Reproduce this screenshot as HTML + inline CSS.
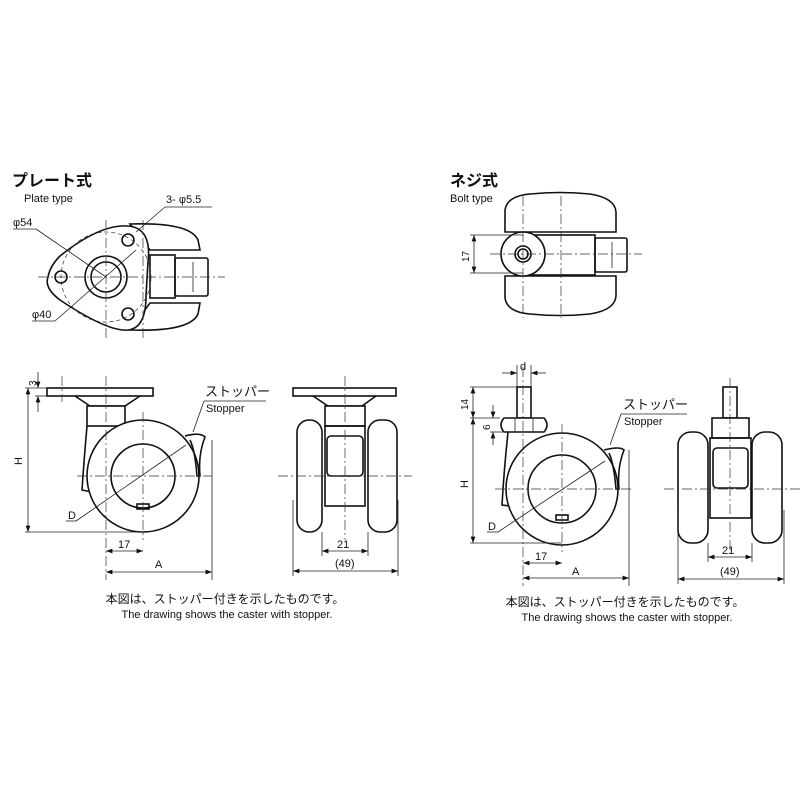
<!DOCTYPE html>
<html><head><meta charset="utf-8"><style>
body{margin:0;background:#fff}
svg{display:block}
text{font-family:"Liberation Sans","Noto Sans CJK JP",sans-serif;fill:#111}
.l{stroke:#111;stroke-width:1.6;fill:none}
.w{stroke:#111;stroke-width:1.6;fill:#fff}
.t{stroke:#222;stroke-width:0.8;fill:none}
.c{stroke:#333;stroke-width:0.7;fill:none;stroke-dasharray:10 3 2 3}
.d{stroke:#333;stroke-width:0.7;fill:none;stroke-dasharray:4 3}
</style></head><body>
<svg width="800" height="800" viewBox="0 0 800 800">
<defs><marker id="a" markerWidth="8" markerHeight="6" refX="8" refY="3" orient="auto-start-reverse"><path d="M0,0 L8,3 L0,6z" fill="#111"/></marker></defs>

<!-- LEFT TITLES -->
<text x="12" y="186" font-size="16" font-weight="bold">プレート式</text>
<text x="24" y="202" font-size="11">Plate type</text>

<!-- plate top view -->
<path class="w" d="M130,224 Q190,222 198,240 L200,250 L150,250 Z"/>
<path class="w" d="M130,330 Q190,332 198,314 L200,303 L150,303 Z"/>
<rect class="l" x="150" y="255" width="25" height="43"/>
<rect class="l" x="175" y="258" width="33" height="38" rx="2"/>
<line class="t" x1="193" y1="262" x2="193" y2="292"/>
<path class="w" d="M128,226 Q152,228 148,262 L146,296 Q146,328 128,330 Q108,332 60,300 Q44,288 48,277 Q50,266 60,256 Q100,224 128,226 Z"/>
<circle class="d" cx="106" cy="277" r="45"/>
<circle class="l" cx="106" cy="277" r="21"/>
<circle class="l" cx="106" cy="277" r="15"/>
<circle class="l" cx="128" cy="240" r="6"/>
<circle class="l" cx="61" cy="277" r="6"/>
<circle class="l" cx="128" cy="314" r="6"/>
<line class="c" x1="38" y1="277" x2="225" y2="277"/>
<line class="c" x1="106" y1="220" x2="106" y2="340"/>
<line class="c" x1="143" y1="220" x2="143" y2="340"/>
<line class="t" x1="36" y1="229" x2="106" y2="277"/>
<line class="t" x1="13" y1="229" x2="36" y2="229"/>
<line class="t" x1="55" y1="321" x2="136" y2="250"/>
<line class="t" x1="32" y1="321" x2="55" y2="321"/>
<line class="t" x1="136" y1="232" x2="165" y2="207"/>
<line class="t" x1="165" y1="207" x2="212" y2="207"/>
<text x="166" y="203" font-size="11">3- φ5.5</text>
<text x="13" y="226" font-size="11">φ54</text>
<text x="32" y="318" font-size="11">φ40</text>

<!-- left side view -->
<rect class="w" x="47" y="388" width="106" height="8"/>
<path class="l" d="M75,396 L90,406 L125,406 L140,396"/>
<rect class="w" x="87" y="406" width="38" height="20"/>
<path class="l" d="M87,426 Q84,460 82,490 L92,492"/>
<circle class="w" cx="143" cy="476" r="56"/>
<circle class="l" cx="143" cy="476" r="32"/>
<rect class="l" x="137" y="504" width="12" height="5"/>
<path class="l" d="M185,436 Q200,432 205,437 Q198,455 200,476 L197,476 Q195,450 190,440"/>
<line class="c" x1="62" y1="376" x2="62" y2="402"/>
<line class="c" x1="106" y1="376" x2="106" y2="580"/>
<line class="c" x1="143" y1="412" x2="143" y2="540"/>
<line class="c" x1="77" y1="476" x2="212" y2="476"/>
<line class="t" x1="212" y1="440" x2="212" y2="580"/>
<line class="t" x1="25" y1="388" x2="47" y2="388"/>
<line class="t" x1="25" y1="532" x2="143" y2="532"/>
<line class="t" x1="28" y1="388" x2="28" y2="532" marker-start="url(#a)" marker-end="url(#a)"/>
<text x="22" y="465" font-size="11" transform="rotate(-90 22 465)">H</text>
<line class="t" x1="38" y1="372" x2="38" y2="388" marker-end="url(#a)"/>
<line class="t" x1="38" y1="412" x2="38" y2="396" marker-end="url(#a)"/>
<line class="t" x1="35" y1="396" x2="47" y2="396"/>
<text x="36" y="386" font-size="10" transform="rotate(-90 36 386)">3</text>
<line class="t" x1="106" y1="551" x2="143" y2="551" marker-start="url(#a)" marker-end="url(#a)"/>
<text x="118" y="548" font-size="11">17</text>
<line class="t" x1="106" y1="572" x2="212" y2="572" marker-start="url(#a)" marker-end="url(#a)"/>
<text x="155" y="568" font-size="11">A</text>
<line class="t" x1="76" y1="521" x2="186" y2="445"/>
<line class="t" x1="66" y1="521" x2="76" y2="521"/>
<text x="68" y="519" font-size="11">D</text>
<line class="t" x1="193" y1="432" x2="204" y2="401"/>
<line class="t" x1="204" y1="401" x2="266" y2="401"/>
<text x="205" y="396" font-size="13">ストッパー</text>
<text x="206" y="412" font-size="11">Stopper</text>

<!-- left front view -->
<rect class="w" x="293" y="388" width="103" height="8"/>
<path class="l" d="M313,396 L328,406 L362,406 L376,396"/>
<rect class="w" x="325" y="406" width="40" height="20"/>
<rect class="l" x="325" y="426" width="40" height="80"/>
<rect class="w" x="297" y="420" width="25" height="112" rx="12"/>
<rect class="w" x="368" y="420" width="29" height="112" rx="12"/>
<rect class="l" x="327" y="436" width="36" height="40" rx="4"/>
<line class="c" x1="345" y1="376" x2="345" y2="540"/>
<line class="c" x1="278" y1="476" x2="412" y2="476"/>
<line class="t" x1="322" y1="532" x2="322" y2="556"/>
<line class="t" x1="368" y1="532" x2="368" y2="556"/>
<line class="t" x1="293" y1="500" x2="293" y2="576"/>
<line class="t" x1="398" y1="500" x2="398" y2="576"/>
<line class="t" x1="322" y1="551" x2="368" y2="551" marker-start="url(#a)" marker-end="url(#a)"/>
<text x="337" y="548" font-size="11">21</text>
<line class="t" x1="293" y1="571" x2="398" y2="571" marker-start="url(#a)" marker-end="url(#a)"/>
<text x="335" y="567" font-size="11">(49)</text>

<text x="225" y="603" font-size="12" text-anchor="middle">本図は、ストッパー付きを示したものです。</text>
<text x="227" y="618" font-size="11" text-anchor="middle">The drawing shows the caster with stopper.</text>

<!-- RIGHT TITLES -->
<text x="450" y="186" font-size="16" font-weight="bold">ネジ式</text>
<text x="450" y="202" font-size="11">Bolt type</text>

<!-- bolt top view -->
<path class="w" d="M505,232 L505,210 Q507,196 530,194 Q560,191 590,194 Q615,198 616,212 L616,232 Z"/>
<path class="w" d="M505,276 L505,298 Q507,312 530,314 Q560,317 590,314 Q615,310 616,296 L616,276 Z"/>
<rect class="w" x="523" y="235" width="72" height="40"/>
<rect class="l" x="595" y="238" width="32" height="34" rx="2"/>
<line class="t" x1="612" y1="242" x2="612" y2="268"/>
<circle class="w" cx="523" cy="254" r="22"/>
<circle class="l" cx="523" cy="254" r="8"/>
<circle class="l" cx="523" cy="254" r="5"/>
<line class="c" x1="490" y1="254" x2="642" y2="254"/>
<line class="c" x1="523" y1="196" x2="523" y2="318"/>
<line class="c" x1="561" y1="196" x2="561" y2="318"/>
<line class="t" x1="470" y1="235" x2="523" y2="235"/>
<line class="t" x1="470" y1="273" x2="523" y2="273"/>
<line class="t" x1="474" y1="235" x2="474" y2="273" marker-start="url(#a)" marker-end="url(#a)"/>
<text x="469" y="262" font-size="10" transform="rotate(-90 469 262)">17</text>

<!-- right side view -->
<rect class="w" x="517" y="387" width="14" height="31"/>
<path class="w" d="M504,418 L544,418 Q550,425 544,432 L504,432 Q498,425 504,418 Z"/>
<line class="t" x1="515" y1="418" x2="515" y2="432"/><line class="t" x1="533" y1="418" x2="533" y2="432"/>
<path class="l" d="M508,432 Q504,470 502,505 L510,506"/>
<circle class="w" cx="562" cy="489" r="56"/>
<circle class="l" cx="562" cy="489" r="34"/>
<rect class="l" x="556" y="515" width="12" height="5"/>
<path class="l" d="M604,450 Q620,446 624,450 Q617,468 619,489 L616,489 Q614,464 609,453"/>
<line class="c" x1="523" y1="367" x2="523" y2="586"/>
<line class="c" x1="562" y1="424" x2="562" y2="552"/>
<line class="c" x1="495" y1="489" x2="632" y2="489"/>
<line class="t" x1="629" y1="450" x2="629" y2="586"/>
<line class="t" x1="517" y1="365" x2="517" y2="387"/><line class="t" x1="531" y1="365" x2="531" y2="387"/>
<line class="t" x1="502" y1="373" x2="517" y2="373" marker-end="url(#a)"/>
<line class="t" x1="546" y1="373" x2="531" y2="373" marker-end="url(#a)"/>
<text x="520" y="370" font-size="11">d</text>
<line class="t" x1="470" y1="387" x2="517" y2="387"/>
<line class="t" x1="470" y1="418" x2="500" y2="418"/>
<line class="t" x1="470" y1="543" x2="562" y2="543"/>
<line class="t" x1="473" y1="387" x2="473" y2="418" marker-start="url(#a)" marker-end="url(#a)"/>
<line class="t" x1="473" y1="418" x2="473" y2="543" marker-start="url(#a)" marker-end="url(#a)"/>
<text x="468" y="410" font-size="10" transform="rotate(-90 468 410)">14</text>
<text x="468" y="488" font-size="11" transform="rotate(-90 468 488)">H</text>
<line class="t" x1="490" y1="432" x2="504" y2="432"/>
<line class="t" x1="493" y1="405" x2="493" y2="418" marker-end="url(#a)"/>
<line class="t" x1="493" y1="445" x2="493" y2="432" marker-end="url(#a)"/>
<text x="490" y="430" font-size="10" transform="rotate(-90 490 430)">6</text>
<line class="t" x1="523" y1="563" x2="562" y2="563" marker-start="url(#a)" marker-end="url(#a)"/>
<text x="535" y="560" font-size="11">17</text>
<line class="t" x1="523" y1="578" x2="629" y2="578" marker-start="url(#a)" marker-end="url(#a)"/>
<text x="572" y="575" font-size="11">A</text>
<line class="t" x1="498" y1="532" x2="605" y2="461"/>
<line class="t" x1="487" y1="532" x2="498" y2="532"/>
<text x="488" y="530" font-size="11">D</text>
<line class="t" x1="610" y1="445" x2="621" y2="414"/>
<line class="t" x1="621" y1="414" x2="687" y2="414"/>
<text x="623" y="409" font-size="13">ストッパー</text>
<text x="624" y="425" font-size="11">Stopper</text>

<!-- right front view -->
<rect class="w" x="723" y="387" width="14" height="31"/>
<rect class="w" x="712" y="418" width="37" height="20"/>
<rect class="l" x="710" y="438" width="41" height="80"/>
<rect class="w" x="678" y="432" width="30" height="111" rx="13"/>
<rect class="w" x="752" y="432" width="30" height="111" rx="13"/>
<rect class="l" x="713" y="448" width="35" height="40" rx="4"/>
<line class="c" x1="730" y1="378" x2="730" y2="552"/>
<line class="c" x1="664" y1="489" x2="800" y2="489"/>
<line class="t" x1="708" y1="543" x2="708" y2="562"/>
<line class="t" x1="752" y1="543" x2="752" y2="562"/>
<line class="t" x1="678" y1="510" x2="678" y2="584"/>
<line class="t" x1="784" y1="510" x2="784" y2="584"/>
<line class="t" x1="708" y1="557" x2="752" y2="557" marker-start="url(#a)" marker-end="url(#a)"/>
<text x="722" y="554" font-size="11">21</text>
<line class="t" x1="678" y1="579" x2="784" y2="579" marker-start="url(#a)" marker-end="url(#a)"/>
<text x="720" y="575" font-size="11">(49)</text>

<text x="625" y="606" font-size="12" text-anchor="middle">本図は、ストッパー付きを示したものです。</text>
<text x="627" y="621" font-size="11" text-anchor="middle">The drawing shows the caster with stopper.</text>
</svg>
</body></html>
